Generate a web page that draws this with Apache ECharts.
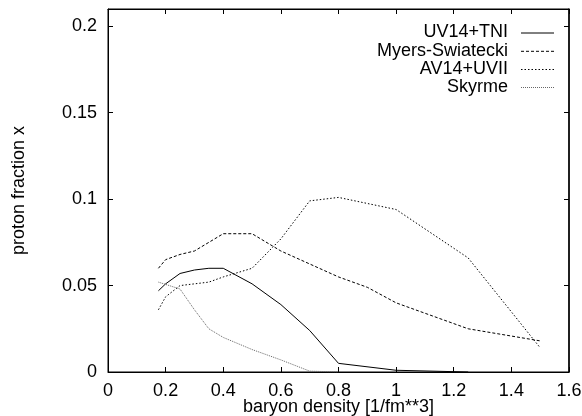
<!DOCTYPE html>
<html>
<head>
<meta charset="utf-8">
<script src="https://cdn.jsdelivr.net/npm/echarts@6/dist/echarts.min.js"></script>
<style>html,body{margin:0;padding:0;background:#fff}#c{width:582px;height:416px}</style>
</head>
<body>
<div id="c"></div>
<script>
var seriesNames = ['UV14+TNI', 'Myers-Swiatecki', 'AV14+UVII', 'Skyrme'];
var xTicks = [0, 0.2, 0.4, 0.6, 0.8, 1.0, 1.2, 1.4, 1.6];
var yTicks = [0, 0.05, 0.1, 0.15, 0.2];

var uvDensity = [0.175, 0.2, 0.25, 0.3, 0.35, 0.4, 0.5, 0.6, 0.7, 0.8, 1.0, 1.25];
var uvFraction = [0.047, 0.051, 0.057, 0.059, 0.060, 0.060, 0.051, 0.039, 0.024, 0.005, 0.001, 0.0];

var msDensity = [0.175, 0.2, 0.25, 0.3, 0.4, 0.5, 0.6, 0.8, 0.9, 1.0, 1.25, 1.5];
var msFraction = [0.060, 0.065, 0.068, 0.070, 0.080, 0.080, 0.070, 0.055, 0.049, 0.040, 0.025, 0.018];

var avDensity = [0.175, 0.2, 0.25, 0.3, 0.35, 0.4, 0.5, 0.6, 0.7, 0.8, 1.0, 1.25, 1.5];
var avFraction = [0.036, 0.0435, 0.050, 0.051, 0.052, 0.055, 0.060, 0.077, 0.099, 0.101, 0.094, 0.066, 0.014];

var skDensity = [0.175, 0.25, 0.3, 0.35, 0.4, 0.5, 0.6, 0.7, 0.8];
var skFraction = [0.052, 0.048, 0.036, 0.025, 0.020, 0.013, 0.007, 0.0005, 0.0];

function pairs(xs, ys) { return xs.map(function (x, i) { return [x, ys[i]]; }); }

var FONT = 'Liberation Sans, Arial, Helvetica, sans-serif';
var styles = [
  { color: '#000', type: 'solid' },
  { color: '#000', type: [3, 2] },
  { color: '#000', type: [1.5, 2] },
  { color: '#666', type: [1, 1] }
];
var datasets = [pairs(uvDensity, uvFraction), pairs(msDensity, msFraction), pairs(avDensity, avFraction), pairs(skDensity, skFraction)];

// legend drawn as graphic (key box in top-right corner)
var legendRowY = [32.5, 50.8, 69, 87];
var legendGraphics = [];
seriesNames.forEach(function (n, i) {
  legendGraphics.push({
    type: 'text', x: 508, y: legendRowY[i], silent: true,
    style: { text: n, font: '18px ' + FONT, fill: '#000', textAlign: 'right', textVerticalAlign: 'middle' }
  });
  legendGraphics.push({
    type: 'line', x: 0, y: 0, silent: true,
    shape: { x1: 521, y1: legendRowY[i] + 0.5, x2: 554, y2: legendRowY[i] + 0.5 },
    style: { stroke: styles[i].color, lineWidth: 1, lineDash: styles[i].type === 'solid' ? null : styles[i].type }
  });
});

var axisFont = { fontFamily: FONT, fontSize: 18, color: '#000' };
var tickStyle = { show: true, inside: true, length: 5, lineStyle: { color: '#000' } };
var option = {
  animation: false,
  backgroundColor: '#fff',
  grid: { left: 108, right: 13, top: 9, bottom: 44, containLabel: false, outerBoundsMode: 'none',
          show: true, borderColor: '#000', borderWidth: 1, backgroundColor: 'transparent' },
  graphic: { elements: legendGraphics },
  xAxis: [{
    type: 'value', min: 0, max: 1.6, interval: 0.2, position: 'bottom',
    name: 'baryon density [1/fm**3]', nameLocation: 'middle', nameGap: 26, nameMoveOverlap: false,
    nameTextStyle: axisFont,
    axisLine: { show: true, onZero: false, lineStyle: { color: '#000', width: 1 } },
    axisTick: tickStyle,
    axisLabel: Object.assign({ margin: 10, formatter: function (v) { var r = Math.round(v*10)/10; return xTicks.indexOf(r) >= 0 ? String(r) : ''; } }, axisFont),
    splitLine: { show: false }
  }, {
    type: 'value', min: 0, max: 1.6, interval: 0.2, position: 'top',
    axisLine: { show: true, onZero: false, lineStyle: { color: '#000', width: 1 } },
    axisTick: tickStyle,
    axisLabel: { show: false }, splitLine: { show: false }
  }],
  yAxis: [{
    type: 'value', min: 0, max: 0.21, interval: 0.05, position: 'left',
    name: 'proton fraction x', nameLocation: 'middle', nameGap: 80, nameRotate: 90, nameMoveOverlap: false,
    nameTextStyle: axisFont,
    axisLine: { show: true, onZero: false, lineStyle: { color: '#000', width: 1 } },
    axisTick: tickStyle,
    axisLabel: Object.assign({ margin: 11, showMaxLabel: false, formatter: function (v) { var r = Math.round(v*100)/100; return yTicks.indexOf(r) >= 0 ? String(r) : ''; } }, axisFont),
    splitLine: { show: false }
  }, {
    type: 'value', min: 0, max: 0.21, interval: 0.05, position: 'right',
    axisLine: { show: true, onZero: false, lineStyle: { color: '#000', width: 1.5 } },
    axisTick: tickStyle,
    axisLabel: { show: false }, splitLine: { show: false }
  }],
  series: seriesNames.map(function (n, i) {
    return {
      name: n, type: 'line', data: datasets[i], symbol: 'none', smooth: false,
      xAxisIndex: 0, yAxisIndex: 0,
      lineStyle: { color: styles[i].color, type: styles[i].type, width: 1 },
      itemStyle: { color: styles[i].color }
    };
  })
};
var chart = echarts.init(document.getElementById('c'), null, { renderer: 'canvas' });
chart.setOption(option);
</script>
</body>
</html>
